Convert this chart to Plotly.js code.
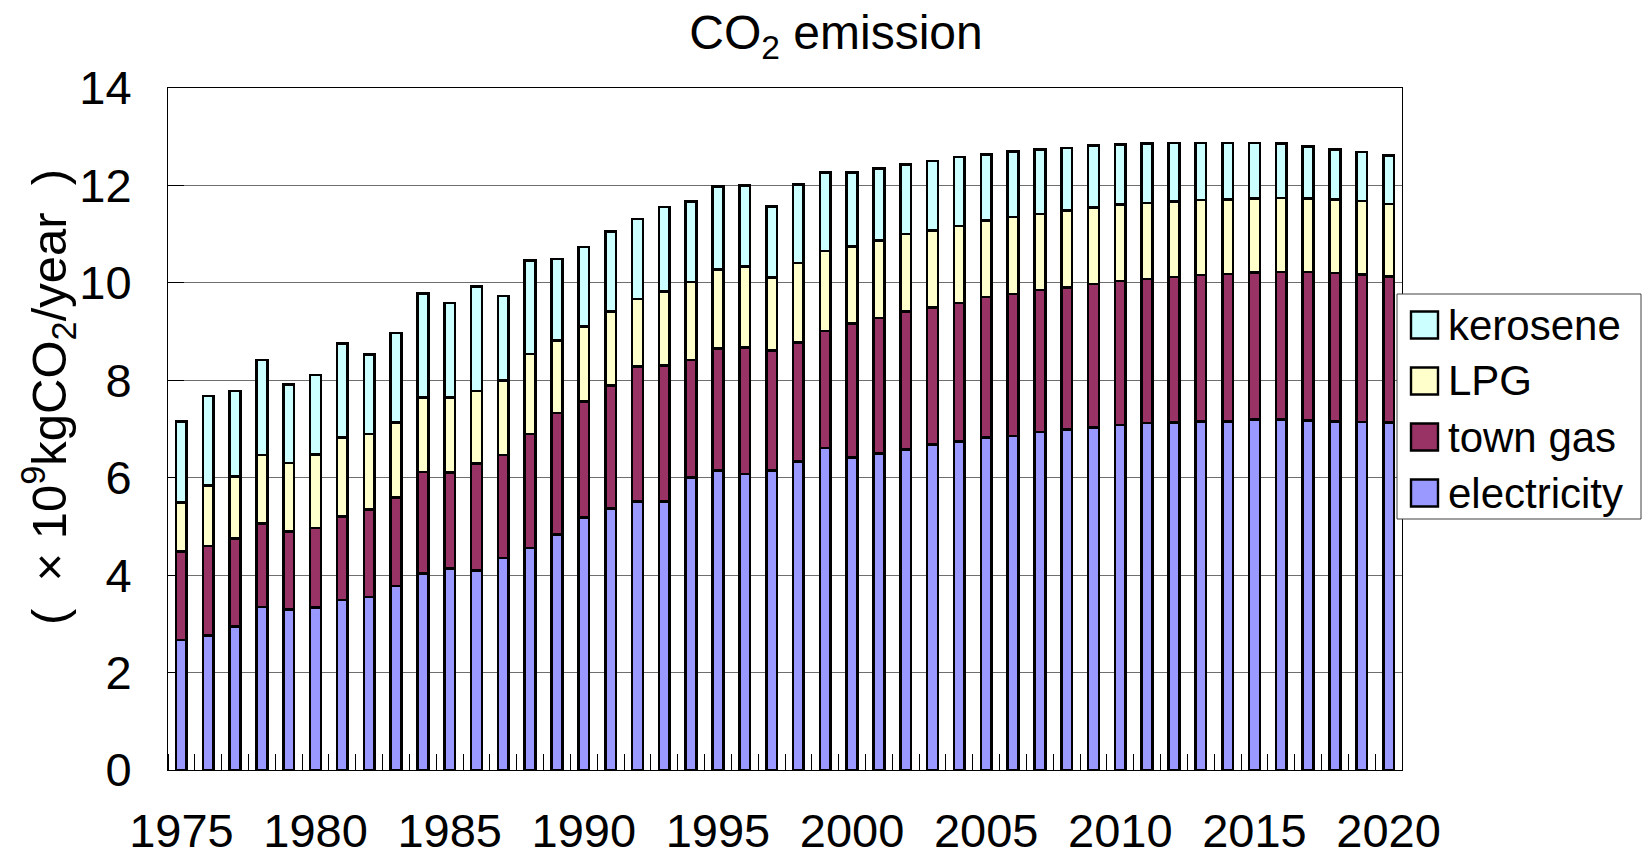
<!DOCTYPE html>
<html>
<head>
<meta charset="utf-8">
<script src="https://cdn.plot.ly/plotly-3.0.1.min.js"></script>
<style>html,body{margin:0;padding:0;background:#fff}</style>
</head>
<body>
<div id="chart" style="width:1652px;height:860px"></div>
<script>
const years = [1975,1976,1977,1978,1979,1980,1981,1982,1983,1984,1985,1986,1987,1988,1989,
  1990,1991,1992,1993,1994,1995,1996,1997,1998,1999,2000,2001,2002,2003,2004,
  2005,2006,2007,2008,2009,2010,2011,2012,2013,2014,2015,2016,2017,2018,2019,2020];

const electricity = [2.67,2.76,2.94,3.35,3.29,3.33,3.49,3.55,3.78,4.03,4.14,4.10,4.35,4.56,4.83,
  5.18,5.37,5.51,5.51,6.00,6.15,6.08,6.15,6.33,6.61,6.41,6.50,6.58,6.68,6.74,
  6.83,6.86,6.94,6.99,7.03,7.08,7.12,7.13,7.15,7.16,7.19,7.19,7.18,7.16,7.14,7.13];

const townGas = [1.81,1.84,1.81,1.71,1.61,1.64,1.72,1.80,1.81,2.09,1.97,2.19,2.12,2.34,2.50,
  2.39,2.52,2.77,2.79,2.42,2.50,2.59,2.46,2.45,2.40,2.75,2.78,2.83,2.82,2.85,
  2.88,2.91,2.91,2.92,2.95,2.96,2.96,2.99,3.01,3.02,3.02,3.03,3.04,3.04,3.03,3.00];

const lpg = [1.01,1.24,1.27,1.41,1.40,1.51,1.62,1.55,1.54,1.53,1.54,1.49,1.53,1.64,1.49,
  1.53,1.52,1.39,1.52,1.60,1.63,1.66,1.50,1.63,1.64,1.59,1.59,1.59,1.57,1.58,
  1.57,1.58,1.56,1.58,1.57,1.57,1.56,1.55,1.54,1.53,1.52,1.52,1.51,1.51,1.51,1.49];

const kerosene = [1.67,1.84,1.76,1.95,1.61,1.63,1.92,1.63,1.84,2.13,1.94,2.14,1.73,1.92,1.67,
  1.64,1.65,1.64,1.74,1.65,1.70,1.67,1.46,1.61,1.62,1.52,1.48,1.43,1.43,1.41,
  1.36,1.35,1.33,1.28,1.27,1.23,1.22,1.20,1.17,1.16,1.14,1.12,1.07,1.03,1.01,0.99];

const seriesNames = ['electricity', 'town gas', 'LPG', 'kerosene'];
const seriesColors = ['#9999FF', '#993366', '#FFFFCC', '#CCFFFF'];
const seriesValues = [electricity, townGas, lpg, kerosene];

const xTickVals = [1975,1980,1985,1990,1995,2000,2005,2010,2015,2020];
const xTickText = ['1975','1980','1985','1990','1995','2000','2005','2010','2015','2020'];
const yTickVals = [0,2,4,6,8,10,12,14];
const yTickText = ['0','2','4','6','8','10','12','14'];

const titleText = 'CO<sub>2</sub> emission';
const yTitleText = '(\u00A0\u00A0\u00D7\u00A010<sup>9</sup>kgCO<sub>2</sub>/year\u00A0\u00A0)';

const FONT = 'Liberation Sans, Arial, sans-serif';
const W = 1652, H = 860;
const M = {l: 168, r: 250, t: 88, b: 90};
const PW = W - M.l - M.r, PH = H - M.t - M.b;
const px2x = px => (px - M.l) / PW;
const py2y = py => (H - M.b - py) / PH;

const traces = seriesNames.map((name, i) => ({
  type: 'bar',
  name: name,
  x: years,
  y: seriesValues[i],
  width: 0.4,
  marker: {color: seriesColors[i], line: {color: '#000', width: 2.6}},
  hoverinfo: 'x+y+name'
}));

// legend drawn as shapes + text (top to bottom: kerosene, LPG, town gas, electricity)
const legendRowsY = [325, 381, 437, 493];
const shapes = [{
  type: 'rect', xref: 'paper', yref: 'paper',
  x0: px2x(1397), x1: px2x(1641), y0: py2y(519), y1: py2y(294),
  line: {color: '#404040', width: 1}, fillcolor: '#fff', layer: 'above'
}];
const annotations = [];
const order = [3, 2, 1, 0];
order.forEach((si, r) => {
  const cy = legendRowsY[r];
  shapes.push({
    type: 'rect', xref: 'paper', yref: 'paper',
    x0: px2x(1411), x1: px2x(1438), y0: py2y(cy + 13.5), y1: py2y(cy - 13.5),
    line: {color: '#000', width: 2.4}, fillcolor: seriesColors[si], layer: 'above'
  });
  annotations.push({
    xref: 'paper', yref: 'paper', x: px2x(1446), y: py2y(cy),
    xanchor: 'left', yanchor: 'middle', showarrow: false,
    text: seriesNames[si], font: {family: FONT, size: 42, color: '#000'}
  });
});
annotations.push({
  xref: 'paper', yref: 'paper', x: px2x(48), y: py2y(397),
  xanchor: 'center', yanchor: 'middle', showarrow: false, textangle: -90,
  text: yTitleText, font: {family: FONT, size: 49, color: '#000'}
});

const layout = {
  width: W, height: H,
  margin: M,
  paper_bgcolor: '#fff', plot_bgcolor: '#fff',
  font: {family: FONT, color: '#000'},
  showlegend: false,
  barmode: 'stack',
  title: {
    text: titleText, font: {family: FONT, size: 48, color: '#000'},
    x: 836 / W, xref: 'container', xanchor: 'center',
    y: 1 - 15 / H, yref: 'container', yanchor: 'top'
  },
  xaxis: {
    type: 'linear', range: [1974.5, 2020.5],
    tickmode: 'array', tickvals: xTickVals, ticktext: xTickText,
    ticks: '', showgrid: false, zeroline: false,
    showline: true, linecolor: '#000', linewidth: 1, mirror: true,
    tickfont: {family: FONT, size: 47, color: '#000'},
    ticklabelstandoff: 20,
    minor: {tickmode: 'linear', tick0: 1974.5, dtick: 1, ticks: 'inside', ticklen: 16, tickcolor: '#000', tickwidth: 1, showgrid: false},
    layer: 'below traces', fixedrange: true
  },
  yaxis: {
    range: [0, 14], tickmode: 'array', tickvals: yTickVals, ticktext: yTickText,
    ticks: 'inside', ticklen: 16, tickcolor: '#000', tickwidth: 1,
    showgrid: true, gridcolor: '#6e6e6e', gridwidth: 1, zeroline: false,
    showline: true, linecolor: '#000', linewidth: 1, mirror: true,
    tickfont: {family: FONT, size: 47, color: '#000'},
    ticklabelstandoff: 26,
    layer: 'below traces', fixedrange: true
  },
  shapes: shapes,
  annotations: annotations
};

Plotly.newPlot('chart', traces, layout, {displayModeBar: false, staticPlot: true});
</script>
</body>
</html>
